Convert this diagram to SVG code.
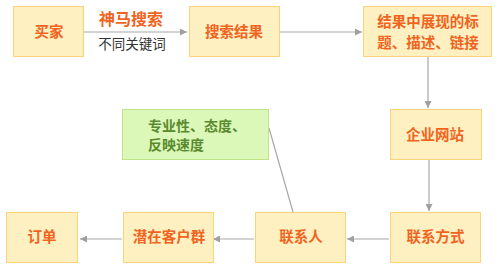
<svg xmlns="http://www.w3.org/2000/svg" width="500" height="271" viewBox="0 0 500 271">
<style>
.box{fill:#fff0c2;stroke:#fcd27a;stroke-width:1}
.gbox{fill:#dcf8b8;stroke:#bde489;stroke-width:1}
.t{font-family:"Noto Sans CJK SC","Noto Sans",sans-serif;font-size:14.5px;font-weight:bold;fill:#f0641e;text-anchor:middle}
.g{font-family:"Noto Sans CJK SC","Noto Sans",sans-serif;font-size:14px;font-weight:bold;fill:#5a8a30}
.line{stroke:#a8a8a8;stroke-width:1.2;fill:none}
</style>
<defs>
<marker id="ah" viewBox="0 0 10 10" refX="10" refY="5" markerWidth="7" markerHeight="7" markerUnits="userSpaceOnUse" orient="auto"><path d="M0,0 L10,5 L0,10 z" fill="#a0a0a0"/></marker>
</defs>
<rect width="500" height="271" fill="#ffffff"/>
<g id="connectors">
<line class="line" x1="84" y1="32" x2="187" y2="32" marker-end="url(#ah)"/>
<line class="line" x1="280" y1="32" x2="362" y2="32" marker-end="url(#ah)"/>
<line class="line" x1="428" y1="57" x2="428" y2="108" marker-end="url(#ah)"/>
<line class="line" x1="429" y1="160" x2="429" y2="211" marker-end="url(#ah)"/>
<line class="line" x1="389" y1="239" x2="347" y2="239" marker-end="url(#ah)"/>
<line class="line" x1="254" y1="239" x2="213" y2="239" marker-end="url(#ah)"/>
<line class="line" x1="122" y1="239" x2="80" y2="239" marker-end="url(#ah)"/>
<line class="line" x1="269" y1="128" x2="293" y2="212"/>
<text x="131" y="25" font-family="'Noto Sans CJK SC',sans-serif" font-size="16" font-weight="bold" fill="#f0641e" text-anchor="middle">神马搜索</text>
<text x="132" y="49" font-family="'Noto Sans CJK SC',sans-serif" font-size="13.5" fill="#333333" text-anchor="middle">不同关键词</text>
</g>
<g id="n1"><rect class="box" x="13.5" y="6.5" width="70" height="50"/><text class="t" x="49" y="37">买家</text></g>
<g id="n2"><rect class="box" x="189.5" y="6.5" width="90" height="50"/><text class="t" x="234" y="37">搜索结果</text></g>
<g id="n3"><rect class="box" x="363.5" y="6.5" width="128" height="50"/><text class="t" x="428" y="27">结果中展现的标</text><text class="t" x="428" y="48">题、描述、链接</text></g>
<g id="n4"><rect class="box" x="390.5" y="109.5" width="91" height="50"/><text class="t" x="435" y="140">企业网站</text></g>
<g id="n5"><rect class="gbox" x="122.5" y="109.5" width="146" height="50"/><text class="g" x="148" y="131">专业性、态度、</text><text class="g" x="148" y="150">反映速度</text></g>
<g id="n6"><rect class="box" x="390.5" y="212.5" width="90" height="50"/><text class="t" x="435.5" y="242">联系方式</text></g>
<g id="n7"><rect class="box" x="255.5" y="212.5" width="90" height="50"/><text class="t" x="301" y="242">联系人</text></g>
<g id="n8"><rect class="box" x="123.5" y="212.5" width="90" height="50"/><text class="t" x="169" y="242">潜在客户群</text></g>
<g id="n9"><rect class="box" x="6.5" y="212.5" width="71" height="50"/><text class="t" x="42" y="242">订单</text></g>
</svg>
